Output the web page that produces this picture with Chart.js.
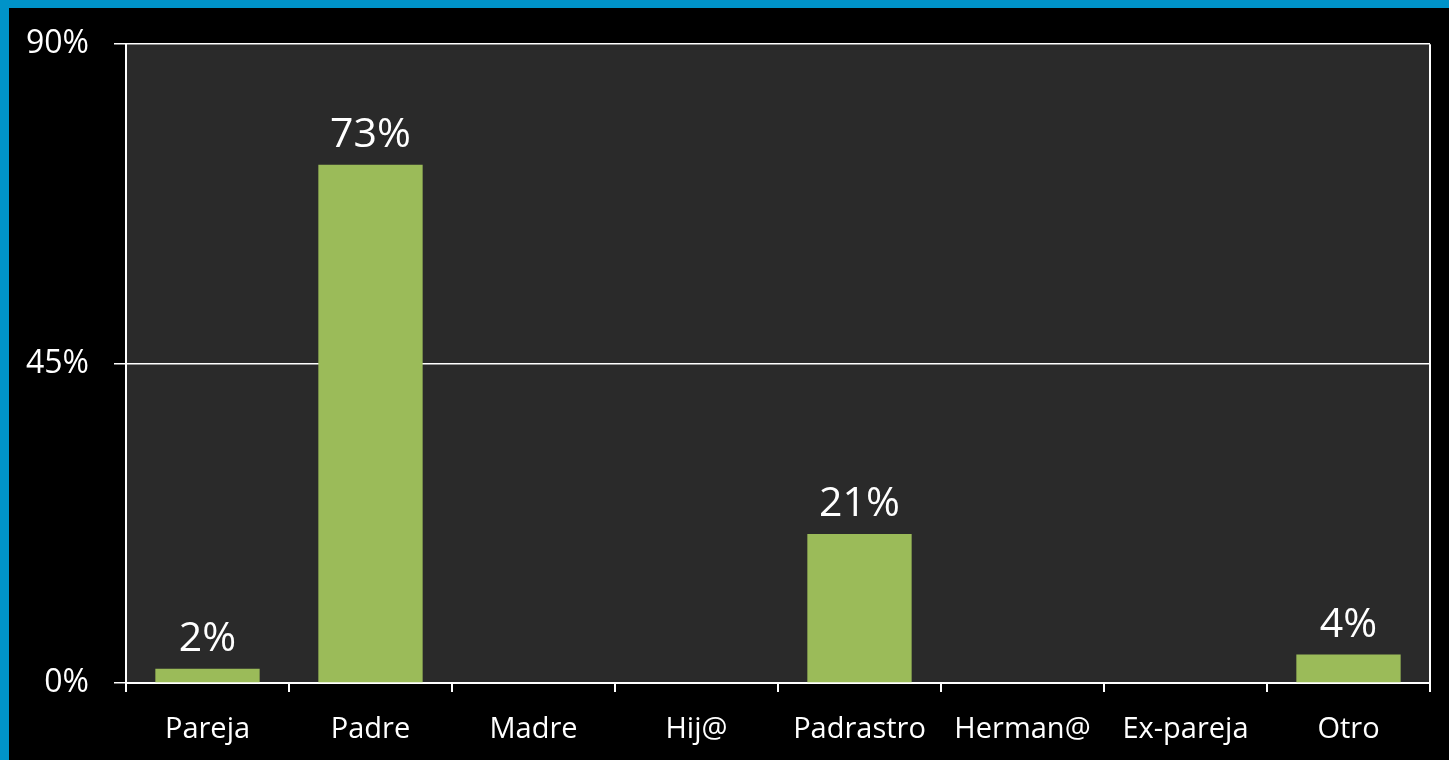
<!DOCTYPE html>
<html>
<head>
<meta charset="utf-8">
<script src="https://cdn.jsdelivr.net/npm/chart.js@4/dist/chart.umd.min.js"></script>
<style>
  html, body { margin: 0; padding: 0; background: #000; overflow: hidden; }
  #wrap { position: absolute; left: 0; top: 0; width: 1449px; height: 760px; }
  #chart { position: absolute; left: 0; top: 0; }
  .strip { position: absolute; background: #0093c9; z-index: 2; }
</style>
</head>
<body>
<div id="wrap">
  <canvas id="chart" width="1449" height="760"></canvas>
  <div class="strip" style="left:0;top:0;width:9px;height:760px"></div>
  <div class="strip" style="left:0;top:0;width:1449px;height:8px"></div>
</div>
<script>
const categories = ['Pareja', 'Padre', 'Madre', 'Hij@', 'Padrastro', 'Herman@', 'Ex-pareja', 'Otro'];
const values = [2, 73, 0, 0, 21, 0, 0, 4];
const yTicks = [0, 45, 90];

const FONT = '"Open Sans", sans-serif';

// --- plot background + right border ---
const plotFrame = {
  id: 'plotFrame',
  beforeDraw(chart) {
    const { ctx, chartArea: a } = chart;
    ctx.save();
    ctx.fillStyle = '#2a2a2a';
    ctx.fillRect(a.left, a.top, a.right - a.left, a.bottom - a.top);
    ctx.restore();
  },
  afterDraw(chart) {
    const { ctx, chartArea: a } = chart;
    ctx.save();
    ctx.strokeStyle = '#ffffff';
    ctx.lineWidth = 2;
    ctx.beginPath();
    ctx.moveTo(a.right, a.top);
    ctx.lineTo(a.right, a.bottom + 9);
    ctx.stroke();
    ctx.restore();
  }
};

// --- value labels above bars ---
const barLabels = {
  id: 'barLabels',
  afterDatasetsDraw(chart) {
    const { ctx } = chart;
    const meta = chart.getDatasetMeta(0);
    ctx.save();
    ctx.fillStyle = '#ffffff';
    ctx.font = '41px ' + FONT;
    ctx.textAlign = 'center';
    ctx.textBaseline = 'alphabetic';
    meta.data.forEach((bar, i) => {
      if (!values[i]) return;
      ctx.fillText(values[i] + '%', bar.x, bar.y - 18);
    });
    ctx.restore();
  }
};

new Chart(document.getElementById('chart'), {
  type: 'bar',
  data: {
    labels: categories,
    datasets: [{
      data: values,
      backgroundColor: '#9bbb59',
      borderWidth: 0,
      categoryPercentage: 0.8,
      barPercentage: 0.8,
    }]
  },
  options: {
    responsive: false,
    animation: false,
    layout: { padding: { top: 44, right: 19, left: 0, bottom: 0 } },
    plugins: { legend: { display: false }, tooltip: { enabled: false } },
    scales: {
      x: {
        grid: { display: true, drawOnChartArea: false, drawTicks: true, tickLength: 9, color: '#ffffff', lineWidth: 2 },
        border: { display: true, color: '#ffffff', width: 2 },
        ticks: { color: '#ffffff', font: { family: FONT, size: 29 }, padding: 20, maxRotation: 0, autoSkip: false },
        afterFit(s) { s.height = 77; }
      },
      y: {
        min: 0,
        max: 90,
        afterBuildTicks(s) { s.ticks = yTicks.map(v => ({ value: v })); },
        grid: { color: '#ffffff', lineWidth: 1.5, tickLength: 12 },
        border: { display: true, color: '#ffffff', width: 2 },
        ticks: { color: '#ffffff', font: { family: FONT, size: 32 }, padding: 25, callback: v => v + '%' },
        afterFit(s) { s.width = 126; }
      }
    }
  },
  plugins: [plotFrame, barLabels]
});
</script>
</body>
</html>
